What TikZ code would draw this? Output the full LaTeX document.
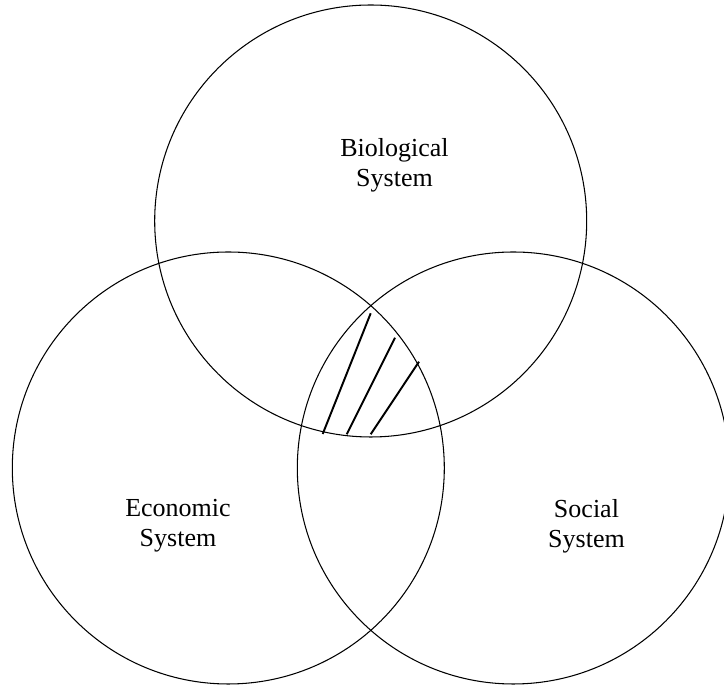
\documentclass[tikz,border=0pt]{standalone}
\usepackage{fontspec}
\setmainfont{Liberation Serif}
\usepackage{tikz}

\begin{document}
\begin{tikzpicture}[every node/.style={font=\fontsize{14.8}{17.1}\selectfont, align=center},
                    system/.style={draw, circle, line width=0.6pt, minimum size=8.64cm, inner sep=0pt},
                    hatch/.style={line width=1.1pt}]
                \useasboundingbox (0, 0) rectangle (14.48, 13.74);

                % Three systems
                \node[system] (bio) at (7.414, 9.32) {};
                \node[system] (eco) at (4.566, 4.38) {};
                \node[system] (soc) at (10.266, 4.38) {};

                % Labels
                \node (biolabel) at (7.89, 10.43) {Biological\\System};
                \node (ecolabel) at (3.56, 3.22) {Economic\\System};
                \node (soclabel) at (11.73, 3.22) {Social\\System};

                % Hatching of the common part
                \foreach \xa/\ya/\xb/\yb in {6.454/5.06/7.414/7.474, 6.934/5.054/7.90/6.986, 7.414/5.054/8.38/6.506} {
                    \draw[hatch] (\xa, \ya) -- (\xb, \yb);
                }
            \end{tikzpicture}
\end{document}
